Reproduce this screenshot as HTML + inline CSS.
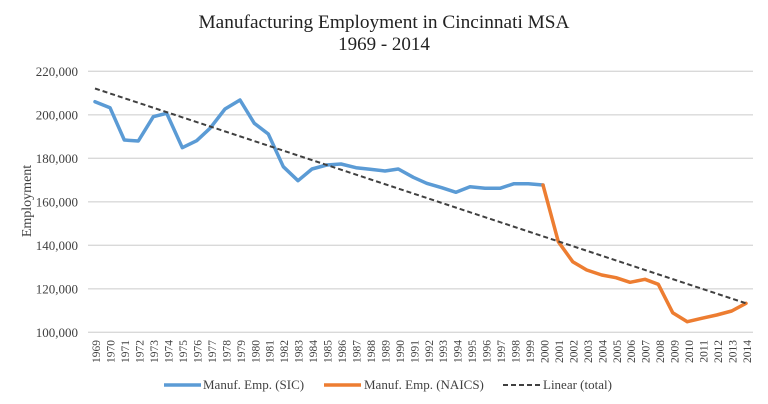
<!DOCTYPE html>
<html><head><meta charset="utf-8"><style>
html,body{margin:0;padding:0;background:#fff;}
svg{display:block;font-family:"Liberation Serif","Times New Roman",serif;}
</style></head><body>
<svg width="768" height="404" viewBox="0 0 768 404" xmlns="http://www.w3.org/2000/svg">
<rect width="768" height="404" fill="#fff"/>
<text x="384" y="28" font-size="19" text-anchor="middle" fill="#222" textLength="371" lengthAdjust="spacingAndGlyphs">Manufacturing Employment in Cincinnati MSA</text>
<text x="384" y="50" font-size="19" text-anchor="middle" fill="#222">1969 - 2014</text>
<g stroke="#d9d9d9" stroke-width="1.3">
<line x1="88" x2="753" y1="71.3" y2="71.3"/>
<line x1="88" x2="753" y1="114.8" y2="114.8"/>
<line x1="88" x2="753" y1="158.3" y2="158.3"/>
<line x1="88" x2="753" y1="201.8" y2="201.8"/>
<line x1="88" x2="753" y1="245.3" y2="245.3"/>
<line x1="88" x2="753" y1="288.8" y2="288.8"/>
<line x1="88" x2="753" y1="332.3" y2="332.3"/>
</g>
<g font-size="13" fill="#404040" text-anchor="end">
<text x="78" y="76">220,000</text>
<text x="78" y="119.5">200,000</text>
<text x="78" y="163">180,000</text>
<text x="78" y="206.5">160,000</text>
<text x="78" y="250">140,000</text>
<text x="78" y="293.5">120,000</text>
<text x="78" y="337">100,000</text>
</g>
<text transform="translate(31,201) rotate(-90)" font-size="14" text-anchor="middle" fill="#404040">Employment</text>
<g font-size="11.5" fill="#404040" text-anchor="end" id="xl"></g>
<polyline fill="none" stroke="#5B9BD5" stroke-width="3.5" stroke-linejoin="round" stroke-linecap="round" points="95,101.7 110,107.7 124.3,140 138.3,141 153.3,116.7 166.7,113.3 182.3,147.7 196.7,140.7 210,128.3 225,109 240,100 254.3,123.3 268.3,134 283.3,166.7 298,180.7 312,169 326.7,165 341,164 356,167.7 370,169.3 385,171 398.3,169 413.3,177.3 426.7,183.3 441.7,187.7 456,192.3 470,186.7 485,188.3 500,188.3 514,183.7 528.3,183.7 543,185"/>
<polyline fill="none" stroke="#ED7D31" stroke-width="3.5" stroke-linejoin="round" stroke-linecap="round" points="543,185 558.3,241.7 572.7,261.7 586.7,270 601.7,275 616,277.7 630,282.3 645,279.3 658.3,284.3 672.7,312.7 687.3,321.7 701.7,318.3 716.7,315 731.7,311 746,303.3"/>
<line x1="95" y1="88.5" x2="746" y2="303.3" stroke="#404040" stroke-width="2" stroke-dasharray="5,3"/>
<line x1="164" y1="385" x2="201" y2="385" stroke="#5B9BD5" stroke-width="3.5"/>
<text x="203" y="389" font-size="13" fill="#404040">Manuf. Emp. (SIC)</text>
<line x1="324" y1="385" x2="361" y2="385" stroke="#ED7D31" stroke-width="3.5"/>
<text x="364" y="389" font-size="13" fill="#404040">Manuf. Emp. (NAICS)</text>
<line x1="503" y1="385" x2="540" y2="385" stroke="#404040" stroke-width="2" stroke-dasharray="5,3"/>
<text x="543" y="389" font-size="13" fill="#404040">Linear (total)</text>
<g font-size="11.5" fill="#404040" text-anchor="end">
<text transform="translate(100.2,340) rotate(-90)">1969</text>
<text transform="translate(114.7,340) rotate(-90)">1970</text>
<text transform="translate(129.1,340) rotate(-90)">1971</text>
<text transform="translate(143.6,340) rotate(-90)">1972</text>
<text transform="translate(158.0,340) rotate(-90)">1973</text>
<text transform="translate(172.5,340) rotate(-90)">1974</text>
<text transform="translate(187.0,340) rotate(-90)">1975</text>
<text transform="translate(201.4,340) rotate(-90)">1976</text>
<text transform="translate(215.9,340) rotate(-90)">1977</text>
<text transform="translate(230.3,340) rotate(-90)">1978</text>
<text transform="translate(244.8,340) rotate(-90)">1979</text>
<text transform="translate(259.3,340) rotate(-90)">1980</text>
<text transform="translate(273.7,340) rotate(-90)">1981</text>
<text transform="translate(288.2,340) rotate(-90)">1982</text>
<text transform="translate(302.6,340) rotate(-90)">1983</text>
<text transform="translate(317.1,340) rotate(-90)">1984</text>
<text transform="translate(331.6,340) rotate(-90)">1985</text>
<text transform="translate(346.0,340) rotate(-90)">1986</text>
<text transform="translate(360.5,340) rotate(-90)">1987</text>
<text transform="translate(374.9,340) rotate(-90)">1988</text>
<text transform="translate(389.4,340) rotate(-90)">1989</text>
<text transform="translate(403.9,340) rotate(-90)">1990</text>
<text transform="translate(418.3,340) rotate(-90)">1991</text>
<text transform="translate(432.8,340) rotate(-90)">1992</text>
<text transform="translate(447.2,340) rotate(-90)">1993</text>
<text transform="translate(461.7,340) rotate(-90)">1994</text>
<text transform="translate(476.2,340) rotate(-90)">1995</text>
<text transform="translate(490.6,340) rotate(-90)">1996</text>
<text transform="translate(505.1,340) rotate(-90)">1997</text>
<text transform="translate(519.5,340) rotate(-90)">1998</text>
<text transform="translate(534.0,340) rotate(-90)">1999</text>
<text transform="translate(548.5,340) rotate(-90)">2000</text>
<text transform="translate(562.9,340) rotate(-90)">2001</text>
<text transform="translate(577.4,340) rotate(-90)">2002</text>
<text transform="translate(591.8,340) rotate(-90)">2003</text>
<text transform="translate(606.3,340) rotate(-90)">2004</text>
<text transform="translate(620.8,340) rotate(-90)">2005</text>
<text transform="translate(635.2,340) rotate(-90)">2006</text>
<text transform="translate(649.7,340) rotate(-90)">2007</text>
<text transform="translate(664.1,340) rotate(-90)">2008</text>
<text transform="translate(678.6,340) rotate(-90)">2009</text>
<text transform="translate(693.1,340) rotate(-90)">2010</text>
<text transform="translate(707.5,340) rotate(-90)">2011</text>
<text transform="translate(722.0,340) rotate(-90)">2012</text>
<text transform="translate(736.4,340) rotate(-90)">2013</text>
<text transform="translate(750.9,340) rotate(-90)">2014</text>
</g>
</svg>
</body></html>
